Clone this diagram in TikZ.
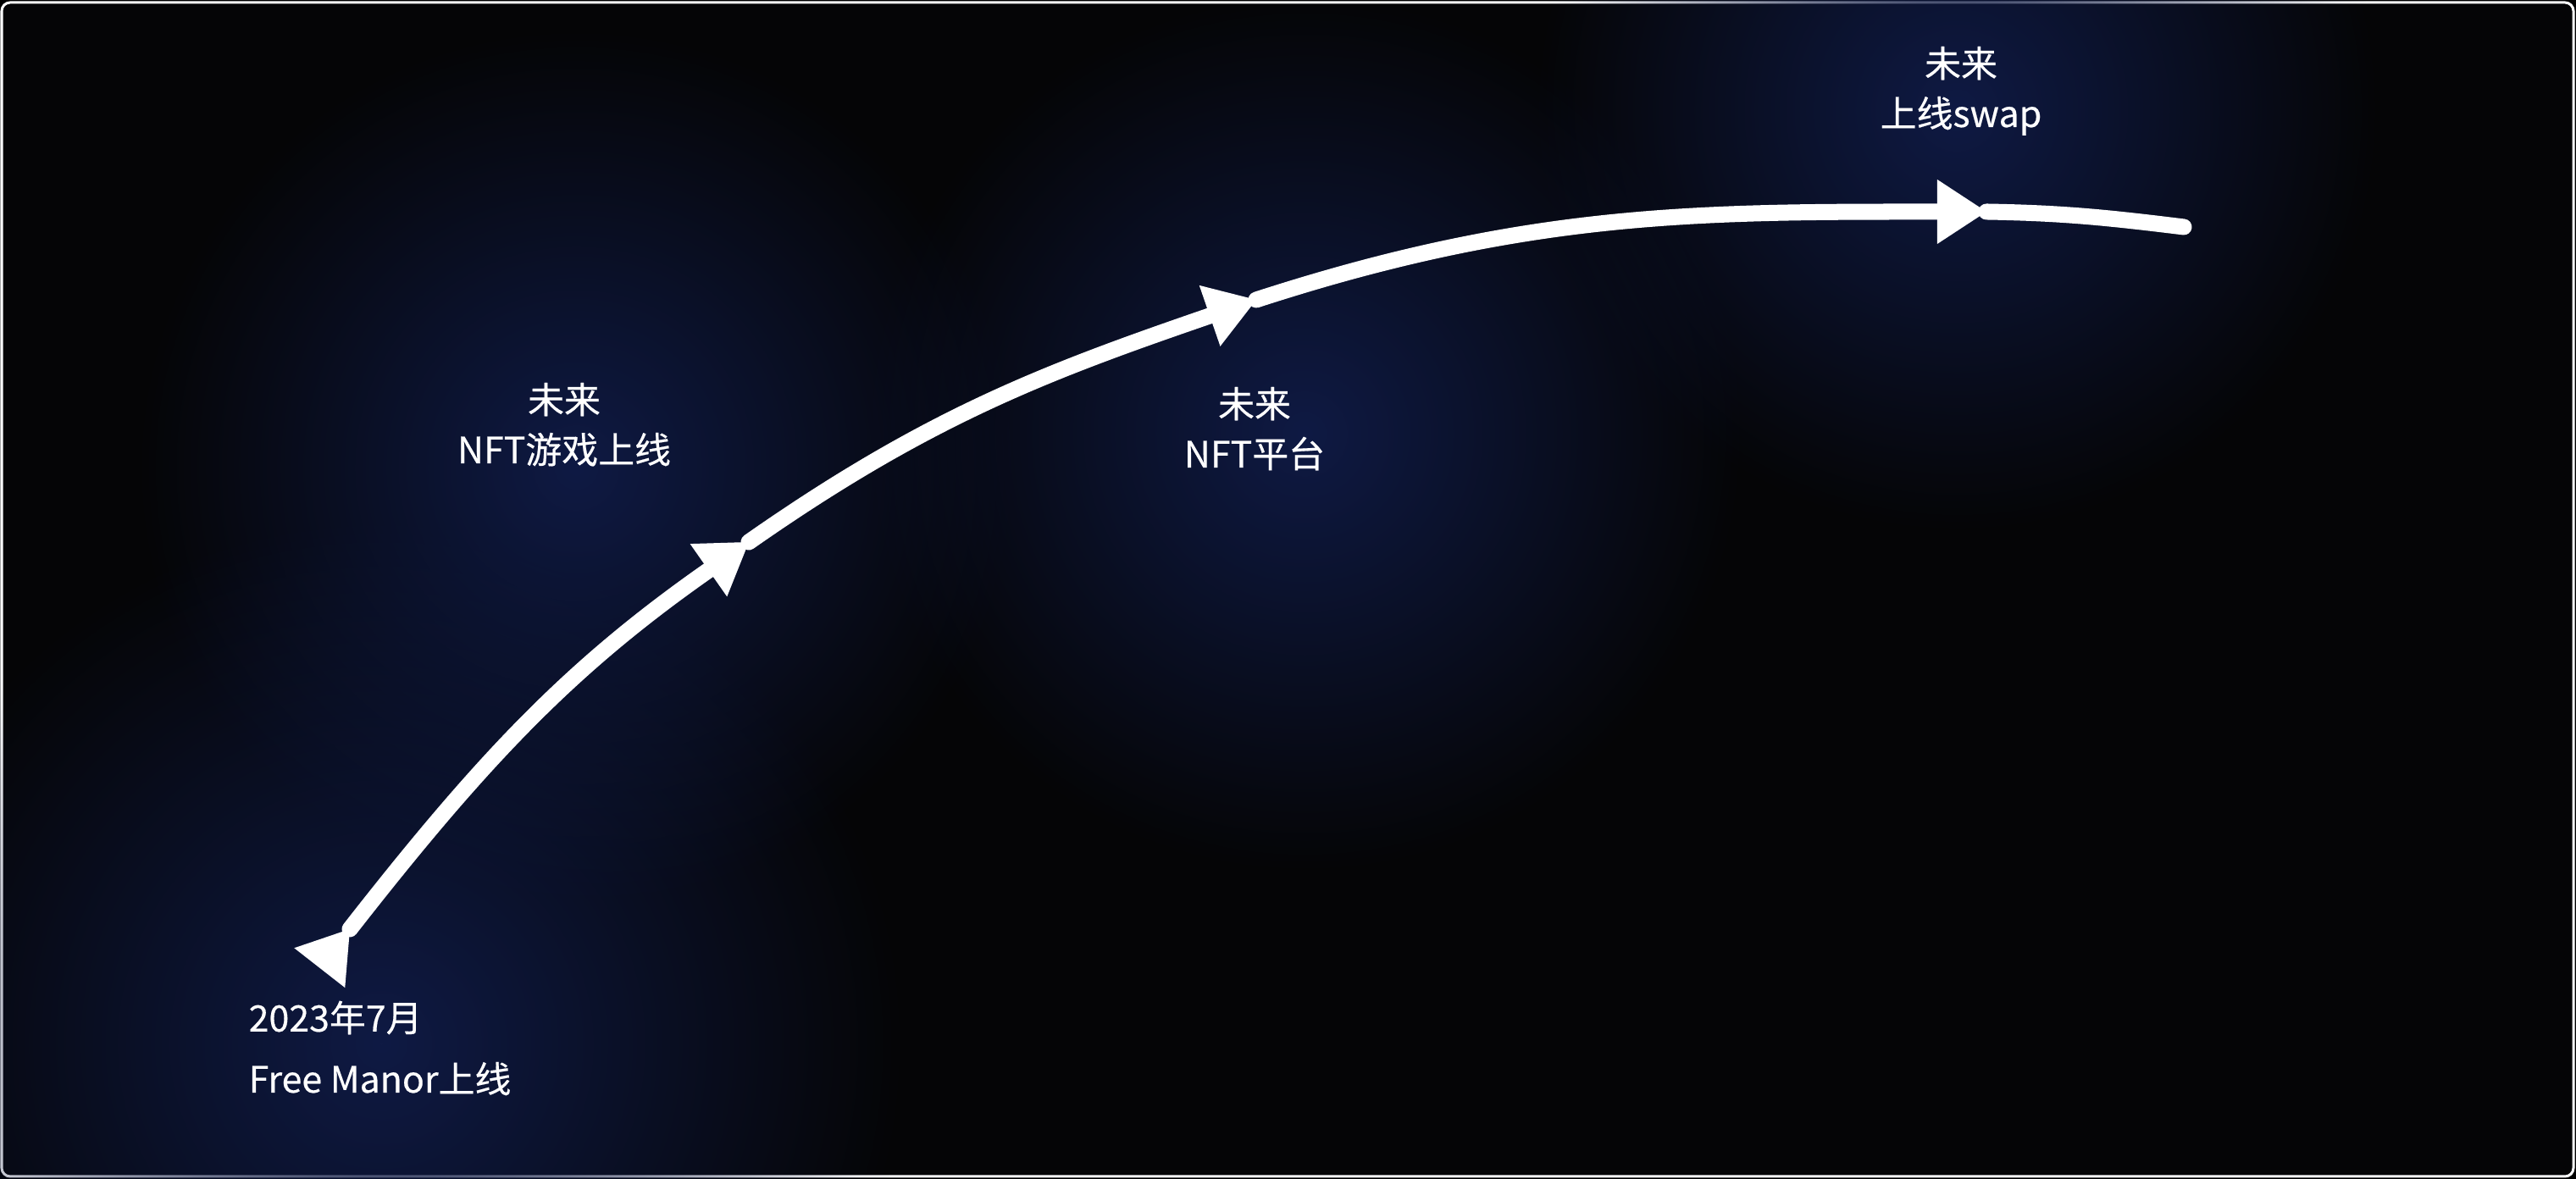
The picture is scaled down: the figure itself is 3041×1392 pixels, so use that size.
\documentclass[tikz,border=0pt]{standalone}
\usepackage{fontspec}
\setmainfont{Noto Sans CJK SC}[FakeBold=0.4]
\usetikzlibrary{arrows.meta,decorations.markings,fadings}
\definecolor{bgdark}{RGB}{5,5,6}
\definecolor{glowblue}{RGB}{15,26,68}
\tikzfading[name=glowfade, inner color=transparent!0, outer color=transparent!100]
\begin{document}
\begin{tikzpicture}[x=0.01cm, y=0.01cm, >={Triangle[length=0.58cm, width=0.76cm, line width=0pt]}]
  % Styles
  \tikzstyle{track} = [draw=white, line width=0.19cm, line cap=round]
  \tikzstyle{glow} = [fill=glowblue, path fading=glowfade]
  \tikzstyle{milestone} = [text=white, inner sep=0pt, align=center,
                           font=\fontsize{12.2pt}{16.8pt}\selectfont]

  % Frame
  \useasboundingbox (0,0) rectangle (3041,1392);
  \fill[black] (0,0) rectangle (3041,1392);
  \draw[white, line width=0.03cm, rounded corners=0.1cm, fill=bgdark] (2,3) rectangle (3038,1389);

  % Glows
  \fill[glow] (450,160) circle (620);
  \fill[glow] (680,840) circle (520);
  \fill[glow] (1540,880) circle (520);
  \fill[glow] (2310,1262) circle (500);

  % Points on the curve
  \coordinate (start) at (413,295);
  \coordinate (stepA) at (884,752);
  \coordinate (stepB) at (1483,1038);
  \coordinate (stepC) at (2345,1142);
  \coordinate (finish) at (2578,1124);

  % Nodes (base = last line)
  \node[milestone, anchor=base west, align=left, font=\fontsize{12.2pt}{20.5pt}\selectfont]
    (launch) at (293,102) {2023年7月\\Free Manor上线};
  \node[milestone, anchor=base] (game) at (666,845) {未来\\NFT游戏上线};
  \node[milestone, anchor=base] (market) at (1481,840) {未来\\NFT平台};
  \node[milestone, anchor=base] (swap) at (2315,1242) {未来\\上线swap};

  % Arrows
  \draw[track, ->, postaction={decorate},
        decoration={markings, mark=at position 0 with {\arrow{>}}}]
    (start) to[out=52, in=215] (stepA);
  \draw[track, ->] (stepA) to[out=35, in=199] (stepB);
  \draw[track, ->] (stepB) to[out=18, in=180] (stepC);
  \draw[track] (stepC) to[out=-1, in=173] (finish);
\end{tikzpicture}
\end{document}
